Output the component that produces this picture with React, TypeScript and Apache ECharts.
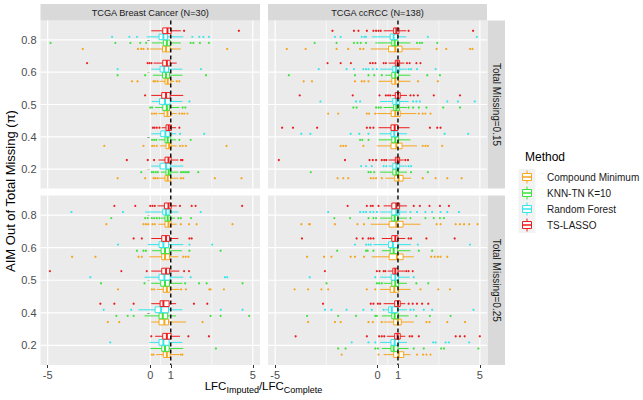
import React, { useEffect, useRef } from "react";
import * as echarts from "echarts";

// ---------- labels ----------
const piLevels = ["0.2", "0.4", "0.5", "0.6", "0.8"];
const methods = ["Compound Minimum", "KNN-TN K=10", "Random Forest", "TS-LASSO"];
const methodColors = ["#F7A51E", "#3CE23C", "#36E6EE", "#EE1C1C"];
const datasets = ["TCGA Breast Cancer (N=30)", "TCGA ccRCC (N=138)"];
const missingLabels = ["Total Missing=0.15", "Total Missing=0.25"];
const xTicks = [-5, 0, 1, 5];

// ---------- box stats [whiskerLow, Q1, median, Q3, whiskerHigh], rows: pi = 0.2, 0.4, 0.5, 0.6, 0.8 ----------
// Breast cancer, total missing 0.15
const brca15CM = [[0.40, 0.72, 0.85, 1.0, 1.37], [0.48, 0.77, 0.92, 1.02, 1.29], [0.40, 0.68, 0.84, 1.0, 1.29], [0.45, 0.72, 0.85, 1.0, 1.16], [0.0, 0.60, 0.77, 0.97, 1.49]];
const brca15KNN = [[0.51, 0.77, 0.90, 1.0, 1.37], [0.40, 0.72, 0.85, 1.0, 1.26], [0.24, 0.61, 0.81, 0.94, 1.42], [0.13, 0.60, 0.77, 0.94, 1.57], [0.08, 0.64, 0.81, 0.97, 1.49]];
const brca15RF = [[0.05, 0.48, 0.77, 0.97, 1.61], [0.05, 0.51, 0.74, 0.94, 1.26], [0.08, 0.45, 0.72, 0.97, 1.57], [0.05, 0.48, 0.68, 0.89, 1.57], [-0.17, 0.43, 0.64, 0.84, 1.61]];
const brca15TS = [[0.40, 0.72, 0.89, 1.02, 1.37], [0.56, 0.77, 0.90, 1.03, 1.26], [0.05, 0.56, 0.77, 0.97, 1.61], [0.16, 0.61, 0.81, 0.97, 1.29], [0.05, 0.61, 0.84, 1.02, 1.49]];
const brca15CMOut = [[-1.59, -0.25, 0.16, 0.24, 0.35, 1.49, 1.61, 3.15, 4.45], [-2.24, -0.33, 0.09, 0.19, 0.32, 1.45, 1.58, 1.74, 3.72], [0.08, 0.19, 0.29, 1.42, 1.55, 1.66, 1.81], [-0.89, -0.62, 0.16, 0.24, 0.36, 1.29, 1.42], [-3.29, -0.60, -0.44, -0.33, -0.12, 3.75]];
const brca15KNNOut = [[-0.44, 0.08, 0.16, 0.27, 0.37, 1.50, 1.60, 1.70, 1.79, 1.87, 2.34], [0.09, 0.19, 0.29, 1.42, 1.97], [0.0, 0.09, 1.58, 1.71], [-1.59, -0.25, 2.72], [-4.86, -1.70, -0.97, -0.49, -0.20, 1.97, 2.10, 2.42, 2.86]];
const brca15RFOut = [[], [1.45, 2.63], [1.91], [-1.59, 2.47], [-1.86, -1.02, -0.65, 2.05, 2.39, 2.59, 2.86]];
const brca15TSOut = [[-1.14, -0.12, 0.19, 1.50, 1.57], [0.13, 0.21, 0.32, 0.45, 1.42], [-0.25], [-3.08, -0.13, -0.04, 0.06], [1.65, 4.32]];

// ccRCC, total missing 0.15
const rcc15CM = [[0.38, 0.84, 1.03, 1.25, 1.64], [-0.03, 0.66, 0.92, 1.20, 1.93], [-0.03, 0.67, 0.87, 1.11, 1.90], [0.05, 0.70, 0.87, 1.03, 1.61], [-0.33, 0.54, 0.87, 1.20, 2.10]];
const rcc15KNN = [[0.13, 0.75, 0.92, 1.03, 1.44], [0.05, 0.70, 0.87, 1.03, 1.61], [0.30, 0.79, 0.92, 1.07, 1.44], [0.38, 0.70, 0.87, 1.03, 1.61], [-0.11, 0.70, 0.84, 1.0, 1.61]];
const rcc15RF = [[0.54, 0.75, 0.92, 1.08, 1.44], [0.10, 0.66, 0.82, 1.0, 1.44], [0.13, 0.75, 0.92, 1.08, 1.52], [0.13, 0.75, 0.90, 1.08, 1.44], [-0.28, 0.62, 0.79, 0.98, 1.41]];
const rcc15TS = [[0.54, 0.87, 0.98, 1.08, 1.28], [0.05, 0.66, 0.84, 1.0, 1.57], [0.70, 0.87, 1.0, 1.11, 1.44], [0.54, 0.87, 0.98, 1.08, 1.31], [0.30, 0.79, 0.92, 1.05, 1.41]];
const rcc15CMOut = [[-1.95, -1.67, -1.43, -0.33, -0.20, -0.07, 0.21, 2.21, 2.84, 3.41, 4.11], [-1.80, -1.67, -1.54, -0.69, 2.21, 2.34, 2.46, 3.16], [-2.41, -1.92, -0.52, -0.41, -0.11, 2.02, 2.21, 2.34, 2.59], [-3.61, -3.20, -1.10, -0.77, -0.64, -0.44, 1.98, 2.95], [-4.43, -3.51, -2.0, -1.43, -0.85, -0.69, 2.89, 3.36, 4.52, 4.64]];
const rcc15KNNOut = [[-3.26, -0.44, -0.33, -0.16, 1.64, 2.46], [-0.85, -0.74, -0.44], [-1.18, -1.02, -0.07, 0.05, 0.16, 1.52, 1.74, 2.02, 2.39, 3.21, 4.03], [-4.33, -1.10, -0.44, -0.16, 0.21, 2.43, 3.05], [-3.07, -2.0, -1.15, -0.98, -0.82, -0.56, 1.93, 2.07, 2.18, 2.92]];
const rcc15RFOut = [[-0.80, -0.56, -0.28, 0.30, 0.43, 1.52, 1.64], [-3.72, -3.28, -1.31, -0.89, -0.44, 3.28, 4.43], [-2.79, -1.05, -0.85, 1.74, 1.90, 2.07, 3.41, 3.93, 4.75], [-2.87, -1.51, -1.15, -0.69, -0.56, -0.44, -0.23, -0.03, 1.52, 1.64, 1.93, 2.84], [-2.08, -1.80, -0.77, -0.64, -0.56, 2.46, 4.85]];
const rcc15TSOut = [[-4.82, -1.59, -0.39, -0.23, -0.07, 0.21, 0.33, 0.43, 1.36, 1.49], [-4.66, -4.13, -2.95, -0.52, -0.36, -0.20, 2.56, 2.92, 3.08], [-3.80, -1.21, 0.10, 0.41, 0.52, 0.62, 1.61, 1.77, 1.97, 2.75, 4.03], [-2.44, -1.80, -1.30, -0.36, -0.23, -0.10, 0.30, 0.41, 1.44, 1.57, 1.90, 2.10], [-2.20, -1.15, -0.93, -0.52, -0.20, -0.07, 0.05, 0.16, 1.52, 4.67]];

// Breast cancer, total missing 0.25
const brca25CM = [[0.29, 0.64, 0.81, 0.97, 1.42], [0.05, 0.43, 0.69, 0.89, 1.74], [0.32, 0.64, 0.81, 0.97, 1.42], [-0.05, 0.56, 0.72, 0.94, 1.37], [0.40, 0.72, 0.89, 1.02, 1.29]];
const brca25KNN = [[0.0, 0.56, 0.72, 0.92, 1.61], [-0.28, 0.43, 0.61, 0.85, 1.26], [0.05, 0.51, 0.72, 0.94, 1.57], [0.08, 0.53, 0.72, 0.94, 1.55], [0.51, 0.72, 0.85, 0.97, 1.21]];
const brca25RF = [[-0.04, 0.43, 0.64, 0.92, 1.57], [-0.57, 0.24, 0.53, 0.89, 1.57], [-0.28, 0.43, 0.69, 0.97, 1.61], [-0.12, 0.43, 0.64, 0.89, 1.61], [-0.25, 0.61, 0.77, 0.92, 1.37]];
const brca25TS = [[0.24, 0.61, 0.81, 1.02, 1.45], [0.05, 0.48, 0.64, 0.92, 1.26], [0.05, 0.56, 0.77, 0.94, 1.42], [0.05, 0.56, 0.77, 0.94, 1.37], [0.35, 0.69, 0.89, 1.02, 1.29]];
const brca25CMOut = [[0.08, 0.16, 1.49, 1.57], [-2.07, -1.51, 2.55], [-1.57, 0.08, 0.19, 1.50, 1.74, 2.88, 2.94, 3.59], [-3.81, -2.67, -0.57, -0.41, 1.61, 1.73, 1.86], [-2.14, -0.33, -0.21, -0.10, 0.11, 0.22, 1.49, 1.89, 2.26, 4.01]];
const brca25KNNOut = [[3.20], [-1.65, -1.10, -0.81, 2.94, 3.43, 4.82], [-2.40, -0.28, 1.70, 2.38, 2.75, 4.50], [-0.65, -0.33, -0.21, 1.91, 3.43], [-1.90, -0.25, -0.12, 0.08, 0.19, 0.32, 0.45, 1.37, 1.49, 1.99]];
const brca25RFOut = [[-1.95], [-2.27, -0.93, 3.44, 4.50], [-2.92, 1.97, 3.64, 3.75], [-1.57, 1.91, 3.02], [-3.84, -1.33, 2.46]];
const brca25TSOut = [[0.05, 1.86, 2.86], [-2.43, -1.75, -0.81, 2.13, 2.78], [-4.89, -1.41, -0.17, 1.65, 1.89], [-0.81, -0.41, 1.91, 2.02], [-1.75, -0.73, 0.0, 0.11, 0.22, 1.45, 2.02, 2.21, 4.48]];

// ccRCC, total missing 0.25
const rcc25CM = [[0.30, 0.79, 1.03, 1.28, 1.61], [0.30, 0.79, 1.0, 1.16, 1.77], [0.13, 0.62, 0.82, 1.03, 1.61], [-0.28, 0.57, 0.95, 1.25, 1.77], [-0.33, 0.57, 0.92, 1.25, 2.10]];
const rcc25KNN = [[0.21, 0.66, 0.79, 1.0, 1.52], [0.21, 0.70, 0.84, 1.03, 1.52], [0.30, 0.70, 0.87, 1.03, 1.44], [0.21, 0.62, 0.79, 0.98, 1.61], [0.13, 0.70, 0.84, 1.0, 1.44]];
const rcc25RF = [[0.13, 0.66, 0.84, 1.03, 1.44], [0.38, 0.54, 0.70, 0.98, 1.44], [0.13, 0.67, 0.87, 1.03, 1.57], [-0.20, 0.54, 0.75, 1.0, 1.64], [0.13, 0.70, 0.92, 1.08, 1.44]];
const rcc25TS = [[0.46, 0.84, 0.98, 1.11, 1.36], [0.30, 0.84, 1.0, 1.11, 1.36], [0.49, 0.75, 0.87, 1.0, 1.36], [0.21, 0.70, 0.87, 1.0, 1.36], [0.30, 0.70, 0.92, 1.08, 1.44]];
const rcc25CMOut = [[-1.75, 0.05, 1.93, 2.23, 2.39, 2.59], [-3.39, -2.08, -1.80, -0.44, -0.23, 0.21, 2.39, 2.54, 3.41, 4.28], [-4.05, -3.39, -2.74, -2.41, -0.52, -0.11, 2.10, 2.97, 3.54], [-3.44, -2.61, -2.25, -1.31, -1.10, -0.66, 2.62, 2.79, 2.95, 3.08, 3.41], [-3.72, -3.34, -3.31, -2.08, -0.98, -0.66, 2.89, 3.08, 3.82, 4.03, 4.23, 4.48, 4.89]];
const rcc25KNNOut = [[-1.92, -1.56, -0.11, 0.02, 1.77, 2.26, 3.11, 3.25, 4.93], [-3.44, -1.92, -1.05, -0.11, -0.03, 1.89, 2.56, 3.57], [-2.49, -0.03, 0.08, 0.21, 1.90, 2.48], [-1.97, -0.56, -0.48, -0.20, 2.02, 2.67], [-2.11, -1.34, -0.44, -0.20, -0.07, 1.61, 2.34, 2.75, 3.05, 3.25]];
const rcc25RFOut = [[-1.26, -0.44, -0.11, 2.72, 2.84, 3.33, 3.49, 4.48], [-2.57, -2.25, -1.51, -0.69, -0.28, 0.30, 1.61, 1.77, 2.26, 2.67, 4.69], [-3.31, -0.11, 1.77], [-1.10, -0.56, -0.44, -0.33, 1.97, 4.52], [-2.41, -0.85, -0.69, -0.56, -0.36, -0.20, -0.03, 1.61, 1.93, 2.34, 2.67, 3.08, 3.41, 3.98]];
const rcc25TSOut = [[-4.0, -0.52, 0.08, 0.21, 0.33, 1.57, 1.69, 2.02, 3.82, 4.03, 4.26, 5.0], [-2.66, -0.33, -0.20, 0.02, 0.13, 1.52, 1.72, 1.93, 2.18, 2.48], [-2.57, -0.03, 0.10, 0.30, 0.38, 1.41, 1.52, 1.72], [-3.69, -1.02, -0.72, -0.44, -0.33, -0.20, 1.52, 1.64, 2.39, 3.77], [-1.46, -0.52, -0.33, -0.23, 0.05, 1.77, 2.07, 2.54, 3.05, 3.49]];

// ---------- layout ----------
const FONT = '"Liberation Sans", Arial, Helvetica, sans-serif';
const COLS = [{ x: 40.5, w: 219.5 }, { x: 268, w: 219 }];
const ROWS = [{ y: 20.5, h: 168 }, { y: 195.5, h: 169.5 }];
const DODGE = 0.1875;
const X_MIN = -5.35;
const X_MAX = 5.35;

const panels = [
  { row: 0, col: 0, boxes: [brca15CM, brca15KNN, brca15RF, brca15TS], outs: [brca15CMOut, brca15KNNOut, brca15RFOut, brca15TSOut] },
  { row: 0, col: 1, boxes: [rcc15CM, rcc15KNN, rcc15RF, rcc15TS], outs: [rcc15CMOut, rcc15KNNOut, rcc15RFOut, rcc15TSOut] },
  { row: 1, col: 0, boxes: [brca25CM, brca25KNN, brca25RF, brca25TS], outs: [brca25CMOut, brca25KNNOut, brca25RFOut, brca25TSOut] },
  { row: 1, col: 1, boxes: [rcc25CM, rcc25KNN, rcc25RF, rcc25TS], outs: [rcc25CMOut, rcc25KNNOut, rcc25RFOut, rcc25TSOut] },
];

function measure(text: string, size: number): number {
  const c = document.createElement("canvas").getContext("2d");
  if (!c) return text.length * size * 0.55;
  c.font = `${size}px ${FONT}`;
  return c.measureText(text).width;
}

function gridRender(minor: number[]) {
  return (params: any, api: any) => {
    const cs = params.coordSys;
    const children: any[] = [];
    minor.forEach((v) => {
      const px = api.coord([v, 3])[0];
      children.push({ type: "line", shape: { x1: px, y1: cs.y, x2: px, y2: cs.y + cs.height }, style: { stroke: "#FFFFFF", lineWidth: 0.6 } });
    });
    xTicks.forEach((v) => {
      const px = api.coord([v, 3])[0];
      children.push({ type: "line", shape: { x1: px, y1: cs.y, x2: px, y2: cs.y + cs.height }, style: { stroke: "#FFFFFF", lineWidth: 1.2 } });
    });
    piLevels.forEach((_, i) => {
      const py = api.coord([0, i + 1])[1];
      children.push({ type: "line", shape: { x1: cs.x, y1: py, x2: cs.x + cs.width, y2: py }, style: { stroke: "#FFFFFF", lineWidth: 1.2 } });
    });
    return { type: "group", children };
  };
}

function dashRender(extra: number) {
  return (params: any, api: any) => {
    const cs = params.coordSys;
    const px = api.coord([1, 3])[0];
    return {
      type: "line",
      shape: { x1: px, y1: cs.y, x2: px, y2: cs.y + cs.height + extra },
      style: { stroke: "#000000", lineWidth: 1.4, lineDash: [4, 3] },
    };
  };
}

function boxRender(params: any, api: any) {
  const lvl = api.value(0);
  const m = api.value(1);
  const yv = lvl + (m - 1.5) * DODGE;
  const color = methodColors[m];
  const p = [2, 3, 4, 5, 6].map((d) => api.coord([api.value(d), yv]));
  const y = p[0][1];
  const h = Math.abs(api.size([0, DODGE])[1]) * 0.94;
  return {
    type: "group",
    children: [
      { type: "line", shape: { x1: p[0][0], y1: y, x2: p[1][0], y2: y }, style: { stroke: color, lineWidth: 1 } },
      { type: "line", shape: { x1: p[3][0], y1: y, x2: p[4][0], y2: y }, style: { stroke: color, lineWidth: 1 } },
      { type: "rect", shape: { x: p[1][0], y: y - h / 2, width: p[3][0] - p[1][0], height: h }, style: { fill: "#FFFFFF", stroke: color, lineWidth: 1 } },
      { type: "line", shape: { x1: p[2][0], y1: y - h / 2, x2: p[2][0], y2: y + h / 2 }, style: { stroke: color, lineWidth: 2 } },
    ],
  };
}

function pointRender(params: any, api: any) {
  const m = api.value(2);
  const yv = api.value(1) + (m - 1.5) * DODGE;
  const c = api.coord([api.value(0), yv]);
  return { type: "circle", shape: { cx: c[0], cy: c[1], r: 1.1 }, style: { fill: methodColors[m] } };
}

function buildOption() {
  const grids: any[] = [];
  const xAxes: any[] = [];
  const yAxes: any[] = [];
  const series: any[] = [];

  panels.forEach((pn, i) => {
    const col = COLS[pn.col];
    const row = ROWS[pn.row];
    grids.push({ left: col.x, top: row.y, width: col.w, height: row.h, show: true, backgroundColor: "#EBEBEB", borderWidth: 0, containLabel: false, outerBoundsMode: "none" });
    const isBottom = pn.row === 1;
    const isLeft = pn.col === 0;
    xAxes.push({
      type: "value", gridIndex: i, min: X_MIN, max: X_MAX,
      axisLine: { show: false }, splitLine: { show: false },
      axisTick: { show: isBottom, length: 3, customValues: xTicks, lineStyle: { color: "#333333", width: 1 } },
      axisLabel: { show: isBottom, customValues: xTicks, formatter: (v: number) => String(v), fontSize: 11, color: "#4D4D4D", fontFamily: FONT, margin: 4 },
    });
    yAxes.push({
      type: "value", gridIndex: i, min: 0.4, max: 5.6,
      axisLine: { show: false }, splitLine: { show: false },
      axisTick: { show: isLeft, length: 3, customValues: [1, 2, 3, 4, 5], lineStyle: { color: "#333333", width: 1 } },
      axisLabel: { show: isLeft, customValues: [1, 2, 3, 4, 5], formatter: (v: number) => piLevels[Math.round(v) - 1] ?? "", fontSize: 11, color: "#4D4D4D", fontFamily: FONT, margin: 4 },
    });

    series.push({ type: "custom", xAxisIndex: i, yAxisIndex: i, silent: true, z: 1, renderItem: gridRender(pn.col === 0 ? [0.5, 3] : [-2.5, 0.5, 3]), data: [[0, 3]] });

    const boxData: number[][] = [];
    const pointData: number[][] = [];
    pn.boxes.forEach((rows, m) => rows.forEach((s, li) => boxData.push([li + 1, m, ...s])));
    pn.outs.forEach((rows, m) => rows.forEach((vals, li) => vals.forEach((v) => pointData.push([v, li + 1, m]))));

    series.push({ type: "custom", xAxisIndex: i, yAxisIndex: i, silent: true, z: 2, renderItem: boxRender, encode: { x: [2, 3, 4, 5, 6], y: 0 }, data: boxData });
    series.push({ type: "custom", xAxisIndex: i, yAxisIndex: i, silent: true, z: 3, renderItem: pointRender, encode: { x: 0, y: 1 }, data: pointData });
    series.push({ type: "custom", xAxisIndex: i, yAxisIndex: i, silent: true, z: 4, renderItem: dashRender(pn.row === 0 ? 7 : 0), data: [[1, 3]] });
  });

  const graphics: any[] = [];
  // top strips
  COLS.forEach((c, j) => {
    graphics.push({ type: "rect", shape: { x: c.x, y: 4, width: c.w, height: 16.5 }, style: { fill: "#D9D9D9" }, silent: true });
    graphics.push({ type: "text", x: c.x + c.w / 2, y: 12.5, style: { text: datasets[j], fontSize: 9.2, fontFamily: FONT, fill: "#1A1A1A", align: "center", verticalAlign: "middle" }, silent: true });
  });
  // right strips
  ROWS.forEach((r, j) => {
    graphics.push({ type: "rect", shape: { x: 487.5, y: r.y, width: 17.5, height: r.h }, style: { fill: "#D9D9D9" }, silent: true });
    graphics.push({ type: "text", x: 496.5, y: r.y + r.h / 2, rotation: -Math.PI / 2, style: { text: missingLabels[j], fontSize: 10, fontFamily: FONT, fill: "#1A1A1A", align: "center", verticalAlign: "middle" }, silent: true });
  });
  // y axis title
  graphics.push({ type: "text", x: 10, y: 191, rotation: Math.PI / 2, style: { text: "AIM Out of Total Missing (π)", fontSize: 13, fontFamily: FONT, fill: "#000000", align: "center", verticalAlign: "middle" }, silent: true });
  // x axis title with subscripts
  const parts = [
    { t: "LFC", s: 11.5, sub: false },
    { t: "Imputed", s: 9, sub: true },
    { t: "/LFC", s: 11.5, sub: false },
    { t: "Complete", s: 9, sub: true },
  ];
  const widths = parts.map((p) => measure(p.t, p.s));
  const total = widths.reduce((a, b) => a + b, 0);
  let cx = 263.5 - total / 2;
  parts.forEach((p, k) => {
    graphics.push({ type: "text", x: cx, y: p.sub ? 389.8 : 386, style: { text: p.t, fontSize: p.s, fontFamily: FONT, fill: "#000000", align: "left", verticalAlign: "middle" }, silent: true });
    cx += widths[k];
  });
  // legend
  graphics.push({ type: "text", x: 525, y: 157, style: { text: "Method", fontSize: 12, fontFamily: FONT, fill: "#000000", align: "left", verticalAlign: "middle" }, silent: true });
  methods.forEach((name, m) => {
    const y = 177 + 16 * m;
    const col = methodColors[m];
    graphics.push({ type: "rect", shape: { x: 518.5, y: y - 8, width: 17, height: 16 }, style: { fill: "#F2F2F2" }, silent: true });
    graphics.push({ type: "line", shape: { x1: 527, y1: y - 6.5, x2: 527, y2: y - 3.5 }, style: { stroke: col, lineWidth: 1 }, silent: true });
    graphics.push({ type: "line", shape: { x1: 527, y1: y + 3.5, x2: 527, y2: y + 6.5 }, style: { stroke: col, lineWidth: 1 }, silent: true });
    graphics.push({ type: "rect", shape: { x: 522.5, y: y - 3.5, width: 9, height: 7 }, style: { fill: "#FFFFFF", stroke: col, lineWidth: 1 }, silent: true });
    graphics.push({ type: "line", shape: { x1: 522.5, y1: y, x2: 531.5, y2: y }, style: { stroke: col, lineWidth: 1.5 }, silent: true });
    graphics.push({ type: "text", x: 547, y, style: { text: name, fontSize: 10, fontFamily: FONT, fill: "#1A1A1A", align: "left", verticalAlign: "middle" }, silent: true });
  });

  return {
    animation: false,
    backgroundColor: "#FFFFFF",
    grid: grids,
    xAxis: xAxes,
    yAxis: yAxes,
    series,
    graphic: { elements: graphics },
  };
}

export default function App() {
  const ref = useRef<HTMLDivElement>(null);
  useEffect(() => {
    if (!ref.current) return;
    const chart = echarts.init(ref.current, null, { renderer: "svg" });
    chart.setOption(buildOption() as any);
    return () => chart.dispose();
  }, []);
  return <div ref={ref} style={{ position: "fixed", left: 0, top: 0, width: 643, height: 400, background: "#FFFFFF" }} />;
}
